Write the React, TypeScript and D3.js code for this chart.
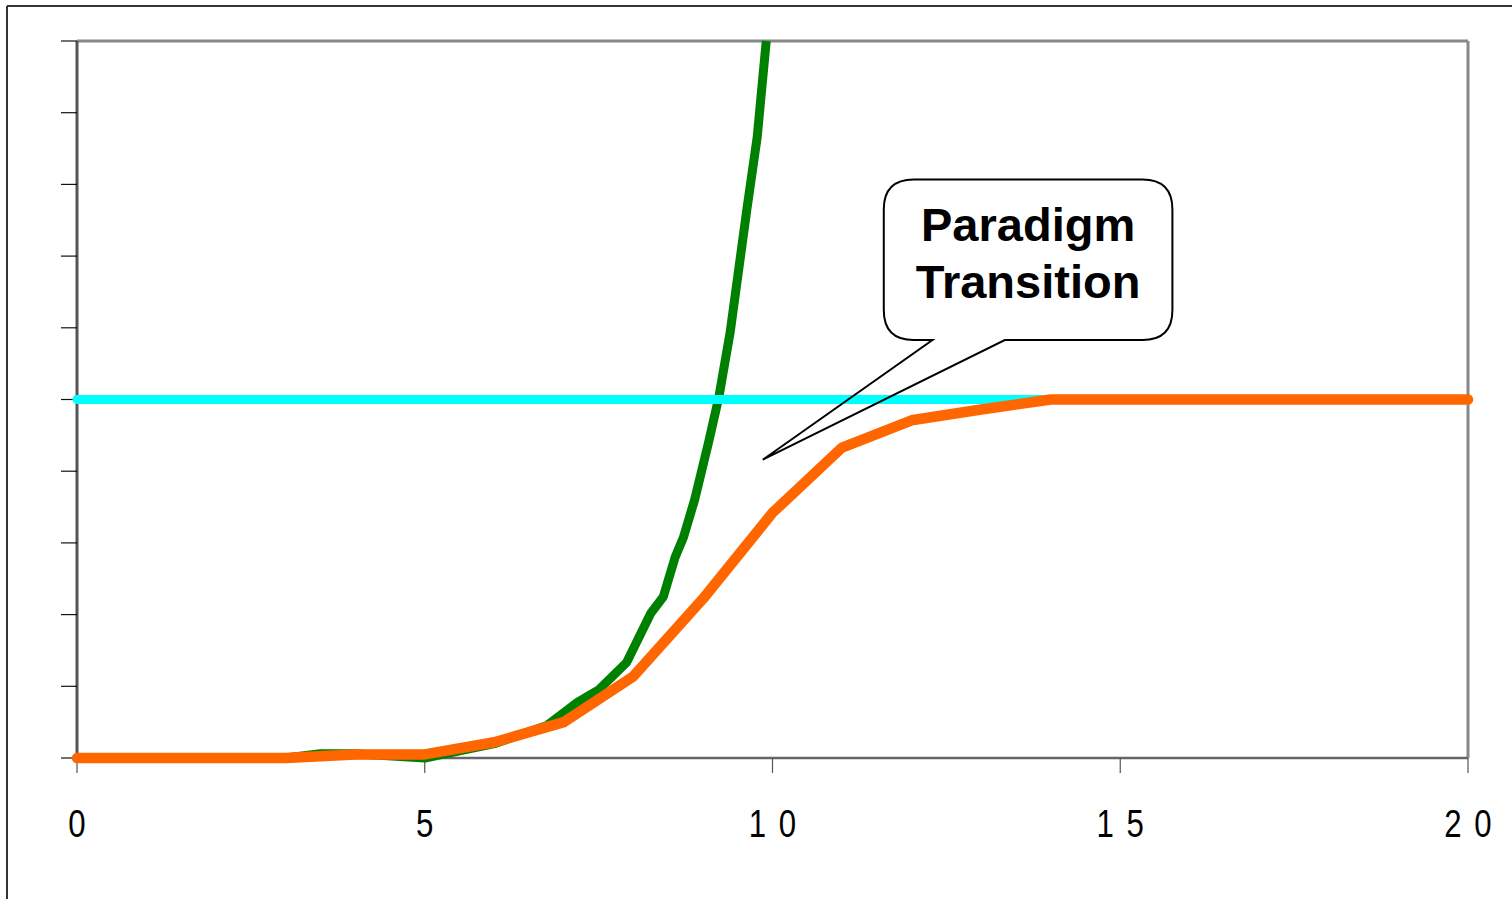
import React from 'react';
import * as d3 from 'd3';

// ---- data ----
const xTickValues = [0, 5, 10, 15, 20];
const xTickLabels = ['0', '5', '10', '15', '20'];
const yTickValues = [0, 1, 2, 3, 4, 5, 6, 7, 8, 9, 10];

const greenX = [0, 3, 3.5, 4, 5, 6, 6.75, 7.2, 7.5, 7.9, 8.25, 8.43, 8.6, 8.72, 8.88, 9.0, 9.08, 9.23, 9.39, 9.63, 9.78, 9.91];
const greenY = [0, 0, 0.06, 0.06, 0.0, 0.2, 0.45, 0.78, 0.95, 1.33, 2.02, 2.25, 2.8, 3.08, 3.6, 4.08, 4.4, 5.04, 5.93, 7.64, 8.66, 10.0];

const cyanX = [0, 20];
const cyanY = [5, 5];

const orangeX = [0, 3, 4, 5, 6, 7, 8, 9, 10, 11, 12, 13, 14, 15, 16, 17, 18, 19, 20];
const orangeY = [0, 0, 0.05, 0.05, 0.22, 0.5, 1.14, 2.22, 3.42, 4.33, 4.71, 4.86, 5, 5, 5, 5, 5, 5, 5];

const calloutLines = ['Paradigm', 'Transition'];
// callout geometry in data units
const calloutBox = { x0: 11.6, x1: 15.75, y0: 5.83, y1: 8.07 };
const calloutBase = [12.3, 13.34];
const calloutTip = { x: 9.86, y: 4.16 };

// ---- layout ----
const W = 1512;
const H = 899;
const left = 77;
const right = 1468;
const top = 41;
const bottom = 758;

export default function App() {
  const x = d3.scaleLinear().domain([0, 20]).range([left, right]);
  const y = d3.scaleLinear().domain([0, 10]).range([bottom, top]);

  const line = d3
    .line<[number, number]>()
    .x((d) => x(d[0]))
    .y((d) => y(d[1]));

  const zip = (xs: number[], ys: number[]) => xs.map((v, i) => [v, ys[i]] as [number, number]);

  const bx0 = x(calloutBox.x0);
  const bx1 = x(calloutBox.x1);
  const by0 = y(calloutBox.y1);
  const by1 = y(calloutBox.y0);
  const r = 30;
  const p1 = x(calloutBase[0]);
  const p2 = x(calloutBase[1]);
  const tx = x(calloutTip.x);
  const ty = y(calloutTip.y);
  const calloutPath = [
    `M${p1},${by1}`,
    `L${bx0 + r},${by1}`,
    `Q${bx0},${by1} ${bx0},${by1 - r}`,
    `L${bx0},${by0 + r}`,
    `Q${bx0},${by0} ${bx0 + r},${by0}`,
    `L${bx1 - r},${by0}`,
    `Q${bx1},${by0} ${bx1},${by0 + r}`,
    `L${bx1},${by1 - r}`,
    `Q${bx1},${by1} ${bx1 - r},${by1}`,
    `L${p2},${by1}`,
    `L${tx},${ty}`,
    `Z`,
  ].join(' ');
  const textCx = (bx0 + bx1) / 2;

  const pitch = 30;

  return (
    <svg
      width={W}
      height={H}
      style={{ position: 'absolute', left: 0, top: 0, background: '#fff' }}
    >
      <rect x={0} y={0} width={W} height={H} fill="#fff" />
      {/* outer frame */}
      <line x1={7} y1={6} x2={W} y2={6} stroke="#333" strokeWidth={2} />
      <line x1={7} y1={6} x2={7} y2={H} stroke="#333" strokeWidth={2} />

      {/* plot frame */}
      <line x1={left} y1={top} x2={right} y2={top} stroke="#888" strokeWidth={3} />
      <line x1={right} y1={top} x2={right} y2={bottom} stroke="#888" strokeWidth={3} />
      <line x1={left} y1={bottom} x2={right} y2={bottom} stroke="#666" strokeWidth={2.5} />
      <line x1={left} y1={top} x2={left} y2={bottom} stroke="#555" strokeWidth={3} />

      {/* y ticks */}
      {yTickValues.map((v) => (
        <line key={'yt' + v} x1={left - 16} x2={left} y1={y(v)} y2={y(v)} stroke="#111" strokeWidth={1.2} />
      ))}
      {/* x ticks */}
      {xTickValues.map((v) => (
        <line key={'xt' + v} x1={x(v)} x2={x(v)} y1={bottom} y2={bottom + 15} stroke="#555" strokeWidth={1.2} />
      ))}
      {/* x labels */}
      {xTickValues.map((v, i) => {
        const s = xTickLabels[i];
        return (
          <g key={'xl' + v}>
            {s.split('').map((c, j) => (
              <text
                key={j}
                transform={`translate(${x(v) + (j - (s.length - 1) / 2) * pitch},837) scale(0.8,1)`}
                textAnchor="middle"
                fontFamily="'Liberation Sans', Arial, sans-serif"
                fontSize={39}
                fill="#000"
              >
                {c}
              </text>
            ))}
          </g>
        );
      })}

      {/* series */}
      <path
        d={line(zip(greenX, greenY)) || ''}
        fill="none"
        stroke="#008000"
        strokeWidth={9}
        strokeLinejoin="round"
      />
      <path
        d={line(zip(cyanX, cyanY)) || ''}
        fill="none"
        stroke="#00FFFF"
        strokeWidth={9}
        strokeLinecap="round"
      />
      <path
        d={line(zip(orangeX, orangeY)) || ''}
        fill="none"
        stroke="#FF6600"
        strokeWidth={10.5}
        strokeLinejoin="round"
        strokeLinecap="round"
      />

      {/* callout */}
      <path d={calloutPath} fill="none" stroke="#000" strokeWidth={2} strokeLinejoin="miter" />
      {calloutLines.map((t, i) => (
        <text
          key={t}
          x={textCx}
          y={by0 + 62 + i * 57}
          textAnchor="middle"
          fontFamily="'Liberation Sans', Arial, sans-serif"
          fontWeight="bold"
          fontSize={47}
          fill="#000"
        >
          {t}
        </text>
      ))}
    </svg>
  );
}
